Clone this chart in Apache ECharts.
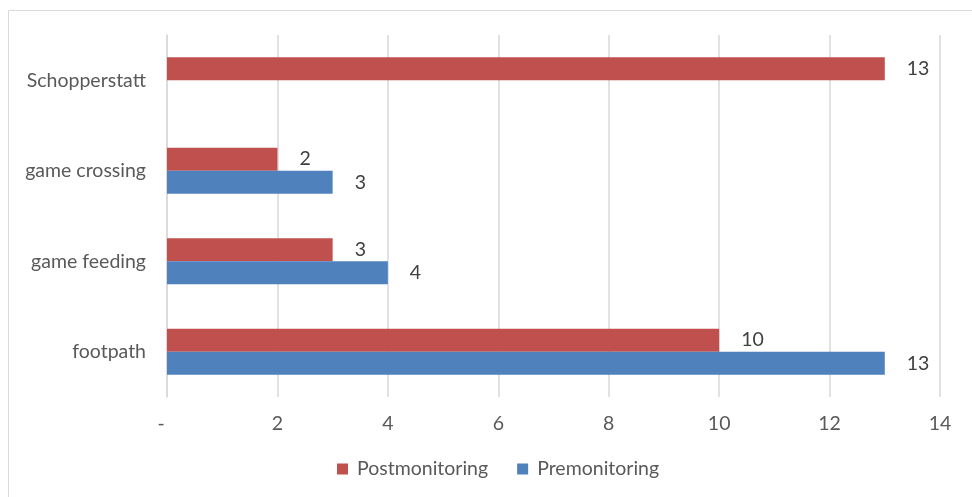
<!DOCTYPE html>
<html>
<head>
<meta charset="utf-8">
<script src="https://cdn.jsdelivr.net/npm/echarts@6/dist/echarts.min.js"></script>
<style>
  html, body { margin: 0; padding: 0; background: #fff; }
  #chart { width: 972px; height: 497px; }
</style>
</head>
<body>
<div id="chart"></div>
<script>
// Sites, listed bottom to top
const categories = ['footpath', 'game feeding', 'game crossing', 'Schopperstatt'];
const postmonitoring = [10, 3, 2, 13];
const premonitoring = [13, 4, 3, null];
const xTicks = { min: 0, max: 14, interval: 2 };

const textColor = '#595959';
const font = 'Lato';
const fs = 19.5;

const chart = echarts.init(document.getElementById('chart'));

const labelStyle = {
  show: true,
  position: 'right',
  distance: 22,
  color: '#404040',
  fontFamily: font,
  fontSize: fs
};

chart.setOption({
  animation: false,
  backgroundColor: '#fff',
  graphic: [{
    type: 'rect',
    shape: { x: 8.5, y: 10.5, width: 1000, height: 1000 },
    style: { fill: 'none', stroke: '#d9d9d9', lineWidth: 1 },
    silent: true
  }],
  grid: { left: 167, right: 32, top: 35, bottom: 100, containLabel: false },
  legend: {
    data: ['Postmonitoring', 'Premonitoring'],
    left: 332,
    top: 454,
    icon: 'rect',
    itemWidth: 11,
    itemHeight: 11,
    itemGap: 29,
    textStyle: { color: textColor, fontFamily: font, fontSize: fs, padding: [0, 0, 0, 4] }
  },
  xAxis: {
    type: 'value',
    min: xTicks.min,
    max: xTicks.max,
    interval: xTicks.interval,
    axisLine: { show: false },
    axisTick: { show: false },
    splitLine: { show: true, lineStyle: { color: '#d9d9d9', width: 1.5 } },
    axisLabel: {
      color: textColor,
      fontFamily: font,
      fontSize: fs,
      margin: 17,
      formatter: v => v === 0 ? '{z|-}' : String(v),
      rich: { z: { color: textColor, fontFamily: font, fontSize: fs, padding: [0, 12, 0, 0] } }
    }
  },
  yAxis: {
    type: 'category',
    data: categories,
    axisLine: { show: true, lineStyle: { color: '#d9d9d9', width: 1.5 } },
    axisTick: { show: false },
    axisLabel: { color: textColor, fontFamily: font, fontSize: fs, margin: 21 }
  },
  series: [
    {
      name: 'Postmonitoring',
      type: 'bar',
      data: postmonitoring,
      barGap: '0%',
      barCategoryGap: '49%',
      itemStyle: { color: '#C0504D' },
      label: labelStyle
    },
    {
      name: 'Premonitoring',
      type: 'bar',
      data: premonitoring,
      barGap: '0%',
      barCategoryGap: '49%',
      itemStyle: { color: '#4F81BD' },
      label: labelStyle
    }
  ]
});
</script>
</body>
</html>
